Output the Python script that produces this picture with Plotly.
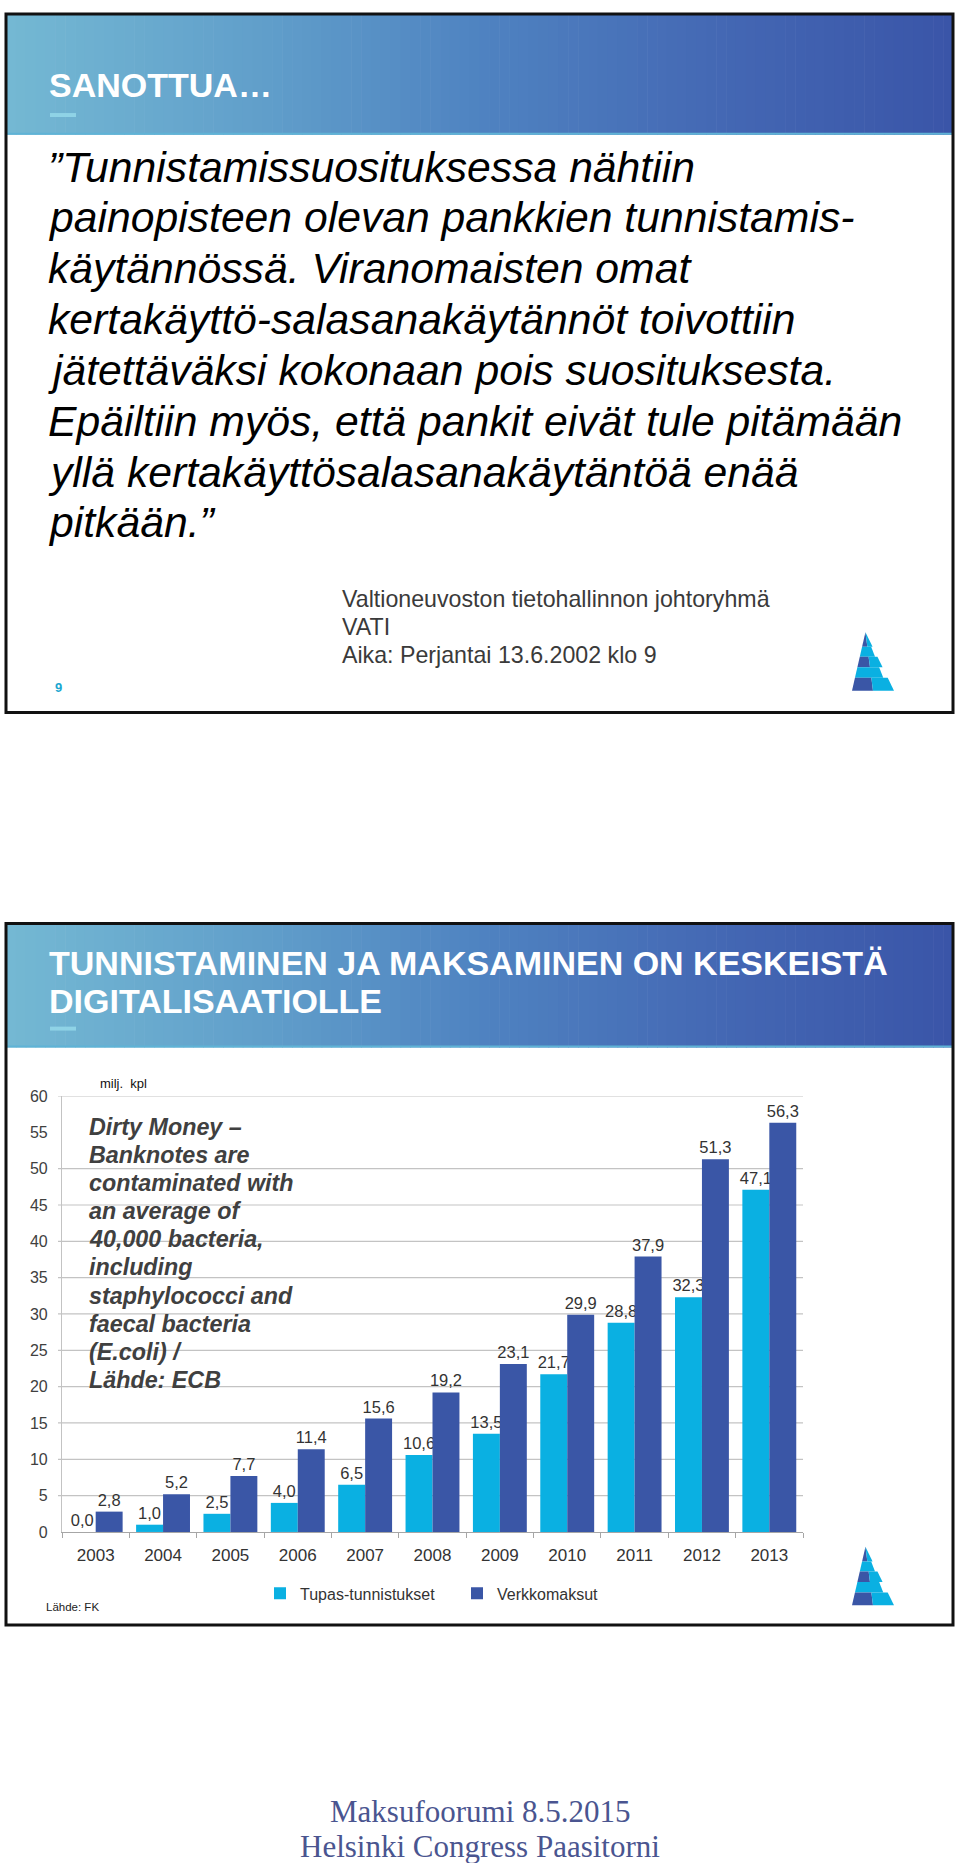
import plotly.graph_objects as go

# ---------------- data ----------------
years = ["2003", "2004", "2005", "2006", "2007", "2008", "2009", "2010", "2011", "2012", "2013"]
tupas = [0.0, 1.0, 2.5, 4.0, 6.5, 10.6, 13.5, 21.7, 28.8, 32.3, 47.1]
verkko = [2.8, 5.2, 7.7, 11.4, 15.6, 19.2, 23.1, 29.9, 37.9, 51.3, 56.3]
series_names = ["Tupas-tunnistukset", "Verkkomaksut"]
y_ticks = [0, 5, 10, 15, 20, 25, 30, 35, 40, 45, 50, 55, 60]
grid_values = [5, 10, 15, 20, 25, 30, 35, 40, 45, 50, 60]

quote_lines = [
    "\u201dTunnistamissuosituksessa nähtiin",
    "painopisteen olevan pankkien tunnistamis-",
    "käytännössä. Viranomaisten omat",
    "kertakäyttö-salasanakäytännöt toivottiin",
    "jätettäväksi kokonaan pois suosituksesta.",
    "Epäiltiin myös, että pankit eivät tule pitämään",
    "yllä kertakäyttösalasanakäytäntöä enää",
    "pitkään.\u201d",
]
attribution_lines = [
    "Valtioneuvoston tietohallinnon johtoryhmä",
    "VATI",
    "Aika: Perjantai 13.6.2002 klo 9",
]
note_lines = [
    "Dirty Money \u2013",
    "Banknotes are",
    "contaminated with",
    "an average of",
    "40,000 bacteria,",
    "including",
    "staphylococci and",
    "faecal bacteria",
    "(E.coli) /",
    "Lähde: ECB",
]
footer_lines = ["Maksufoorumi 8.5.2015", "Helsinki Congress Paasitorni"]

# ---------------- helpers ----------------
W, H = 960, 1863
def px(x):
    return x / W
def py(y):
    return 1 - y / H

LIGHT = "#0ab0e2"
DARK = "#3a56a6"
SANS = "Liberation Sans, Arial, sans-serif"

shapes = []
annotations = []

def lerp_color(stops, t):
    for i in range(len(stops) - 1):
        t0, c0 = stops[i]
        t1, c1 = stops[i + 1]
        if t0 <= t <= t1:
            f = (t - t0) / (t1 - t0) if t1 > t0 else 0
            a = [int(c0[k:k + 2], 16) for k in (1, 3, 5)]
            b = [int(c1[k:k + 2], 16) for k in (1, 3, 5)]
            c = [round(a[j] + (b[j] - a[j]) * f) for j in range(3)]
            return "rgb(%d,%d,%d)" % tuple(c)
    return stops[-1][1]

grad_stops = [(0.0, "#74b8d3"), (0.25, "#62a1cb"), (0.5, "#4f83c1"), (0.75, "#4468b4"), (1.0, "#3a55a8")]

def header(x0, x1, y0, y1):
    n = 96
    step = (x1 - x0) / n
    for i in range(n):
        c = lerp_color(grad_stops, (i + 0.5) / n)
        shapes.append(dict(type="rect", xref="paper", yref="paper",
                           x0=px(x0 + i * step), x1=px(x0 + (i + 1) * step + 0.6),
                           y0=py(y1), y1=py(y0), line=dict(width=0), fillcolor=c, layer="below"))
    shapes.append(dict(type="line", xref="paper", yref="paper", x0=px(x0), x1=px(x1),
                       y0=py(y1 - 1), y1=py(y1 - 1), line=dict(color="#5fb3d6", width=2), layer="below"))

def logo(x0, y0, w, h):
    apex = 0.32
    bands = [0.0, 0.25, 0.42, 0.60, 0.78, 1.0]
    def L(t): return apex - apex * t
    def M(t): return apex + (0.5 - apex) * t
    for b in range(len(bands) - 1):
        t0, t1 = bands[b], bands[b + 1]
        if b % 2 == 0:
            def R(t): return apex + (1 - apex) * t
            left = [(L(t0), t0), (M(t0), t0), (M(t1), t1), (L(t1), t1)]
            right = [(M(t0), t0), (R(t0), t0), (R(t1), t1), (M(t1), t1)]
            parts = ((left, DARK), (right, LIGHT))
        else:
            def R(t): return apex + (1 - apex) * t * 0.8
            full = [(L(t0), t0), (R(t0), t0), (R(t1), t1), (L(t1), t1)]
            parts = ((full, LIGHT),)
        for poly, col in parts:
            path = "M " + " L ".join("%f,%f" % (px(x0 + u * w), py(y0 + v * h)) for u, v in poly) + " Z"
            shapes.append(dict(type="path", xref="paper", yref="paper", path=path,
                               fillcolor=col, line=dict(width=0)))

def text(x, y, s, size, color="#000", family=SANS, xanchor="left"):
    annotations.append(dict(x=px(x), y=py(y), xref="paper", yref="paper", text=s, showarrow=False,
                            xanchor=xanchor, yanchor="middle", align="left",
                            font=dict(size=size, color=color, family=family)))

# ---------------- top slide ----------------
header(6, 953, 6, 128)
text(47, 78, "<b>SANOTTUA\u2026</b>", 34, "white")
shapes.append(dict(type="rect", xref="paper", yref="paper", x0=px(50), x1=px(76), y0=py(110), y1=py(106),
                   fillcolor="#8fd3e6", line=dict(width=0)))
for i, s in enumerate(quote_lines):
    text(46, 160 + i * 51.3, "<i>" + s + "</i>", 42.7, "#000")
for i, s in enumerate(attribution_lines):
    text(340, 596 + i * 28.5, s, 23.2, "#3a3a3a")
text(53, 686, "<b>9</b>", 13, "#1aa6d0")
logo(852, 630, 42, 59)
shapes.append(dict(type="rect", xref="paper", yref="paper", x0=px(6), x1=px(953), y0=py(711), y1=py(6),
                   line=dict(color="#111", width=3), layer="above"))

# ---------------- bottom slide ----------------
header(6, 953, 924, 1049)
text(47, 964, "<b>TUNNISTAMINEN JA MAKSAMINEN ON KESKEISTÄ</b>", 34, "white")
text(47, 1002, "<b>DIGITALISAATIOLLE</b>", 34, "white")
shapes.append(dict(type="rect", xref="paper", yref="paper", x0=px(50), x1=px(76), y0=py(1032), y1=py(1028),
                   fillcolor="#8fd3e6", line=dict(width=0)))
text(98, 1085, "milj.  kpl", 13, "#111")
for i, s in enumerate(note_lines):
    text(87, 1129 + i * 28.4, "<b><i>" + s + "</i></b>", 23.3, "#404040")
text(44, 1614, "Lähde: FK", 11.5, "#222")
logo(852, 1553, 42, 59)
shapes.append(dict(type="rect", xref="paper", yref="paper", x0=px(6), x1=px(953), y0=py(1632), y1=py(924),
                   line=dict(color="#111", width=3), layer="above"))

# gridlines (the 55 line is absent in the original)
for v in grid_values:
    shapes.append(dict(type="line", xref="paper", yref="y", x0=px(58), x1=px(803), y0=v, y1=v,
                       line=dict(color="#c3c3c3", width=1.2), layer="below"))

# footer
for i, s in enumerate(footer_lines):
    text(480, 1820 + i * 35, s, 31, "#4a5590", family="Liberation Serif, Times New Roman, serif", xanchor="center")

# ---------------- chart ----------------
fig = go.Figure()
fig.add_trace(go.Bar(x=years, y=tupas, name=series_names[0], marker=dict(color=LIGHT, line=dict(width=0)),
                     texttemplate="%{y:.1f}", textposition="outside", constraintext="none", cliponaxis=False,
                     textfont=dict(size=16.5, color="#333"), legend="legend", showlegend=True))
fig.add_trace(go.Bar(x=years, y=verkko, name=series_names[1], marker=dict(color=DARK, line=dict(width=0)),
                     texttemplate="%{y:.1f}", textposition="outside", constraintext="none", cliponaxis=False,
                     textfont=dict(size=16.5, color="#333"), legend="legend2", showlegend=True))

fig.update_layout(
    width=W, height=H,
    margin=dict(l=0, r=0, t=0, b=0),
    paper_bgcolor="white", plot_bgcolor="rgba(0,0,0,0)",
    separators=", ",
    showlegend=True,
    font=dict(family=SANS, color="#333"),
    barmode="group", bargap=0.2, bargroupgap=0,
    xaxis=dict(domain=[px(62), px(803)], anchor="y", type="category",
               showline=True, linecolor="#a6a6a6", linewidth=1.2,
               ticks="outside", tickson="boundaries", ticklen=5, tickcolor="#a6a6a6",
               tickfont=dict(size=17, color="#333"), ticklabelstandoff=8,
               showgrid=False, zeroline=False),
    yaxis=dict(domain=[py(1538), py(1098)], anchor="x", range=[0, 60], tickvals=y_ticks,
               showline=True, linecolor="#c3c3c3", linewidth=1.2, ticks="", showgrid=False, zeroline=False,
               tickfont=dict(size=16, color="#404040"), ticklabelstandoff=10),
    legend=dict(x=px(260), y=py(1600), xanchor="left", yanchor="middle", orientation="h",
                font=dict(size=16, color="#333"), bgcolor="rgba(0,0,0,0)"),
    legend2=dict(x=px(457), y=py(1600), xanchor="left", yanchor="middle", orientation="h",
                 font=dict(size=16, color="#333"), bgcolor="rgba(0,0,0,0)"),
    shapes=shapes,
    annotations=annotations,
)

fig.write_html("out.html")
